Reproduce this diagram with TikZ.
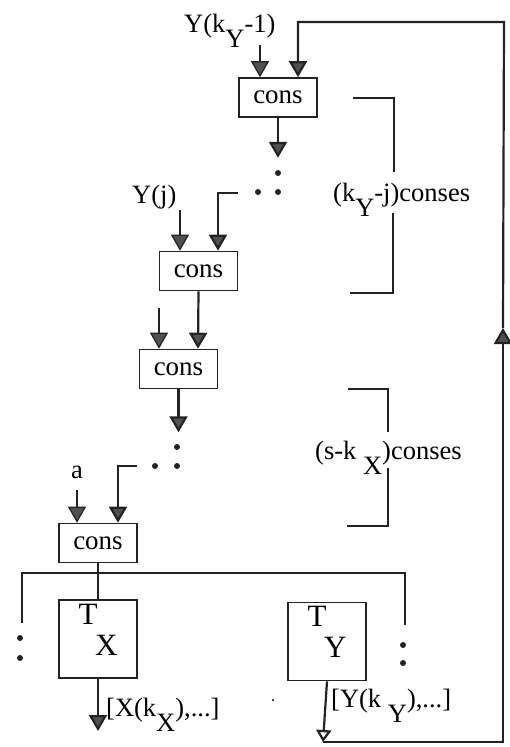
\documentclass[tikz,border=0pt]{standalone}
\usepackage{fontspec}
\setmainfont{Liberation Serif}
\usepackage{xcolor}
\usetikzlibrary{arrows.meta,calc}
\definecolor{Ink}{RGB}{35,35,35}
\definecolor{TipGray}{RGB}{80,80,80}
\newcommand{\lowsub}[1]{\raisebox{-0.6em}{#1}}
\newcommand{\tsub}[1]{\raisebox{-1.0em}[0pt][1.6em]{#1}}

\tikzset{
  consbox/.style={draw=Ink,line width=1.6pt,fill=white,minimum width=78pt,
                  minimum height=39pt,inner sep=0pt,font=\fontsize{27}{30}\selectfont},
  tbox/.style={draw=Ink,line width=1.8pt,minimum width=78pt,minimum height=78pt,
               inner sep=0pt,font=\fontsize{31}{34}\selectfont},
  wire/.style={draw=Ink,line width=2.2pt},
  thinwire/.style={draw=Ink,line width=1.2pt},
  fed/.style={-{Triangle[width=18pt,length=16pt,fill=TipGray]}},
  openfed/.style={-{Triangle[open,width=15pt,length=12pt,fill=white]}},
  lbl/.style={inner sep=0pt,font=\fontsize{26.5}{30}\selectfont},
  dotmark/.style={circle,fill=Ink,inner sep=0pt,minimum size=6pt},
}

\begin{document}
\begin{tikzpicture}[x=1pt,y=-1pt]
  \useasboundingbox (0,0) rectangle (509,747);

  % cons chain
  \node[consbox] (consA) at (278,97.5) {cons};
  \node[consbox] (consB) at (198.5,271) {cons};
  \node[consbox] (consC) at (178.5,369) {cons};
  \node[consbox] (consD) at (98,543) {cons};
  \node[tbox] (TX) at (98,639) {T\kern-.08em\tsub{X}};
  \node[tbox] (TY) at (327,641.5) {T\kern-.08em\tsub{Y}};

  \coordinate (inA1) at ($(consA.north)+(-18,0)$);
  \coordinate (inA2) at ($(consA.north)+(20,0)$);
  \coordinate (inB1) at ($(consB.north)+(-18.5,0)$);
  \coordinate (inB2) at ($(consB.north)+(19.5,0)$);
  \coordinate (inC1) at ($(consC.north)+(-19.5,0)$);
  \coordinate (inC2) at ($(consC.north)+(19.5,0)$);
  \coordinate (inD1) at ($(consD.north)+(-21,0)$);
  \coordinate (inD2) at ($(consD.north)+(20,0)$);

  % inputs
  \node[lbl,anchor=base west] (yk) at (184,32) {Y(k\lowsub{Y}-1)};
  \draw[thinwire,fed] (inA1 |- 0,45) -- (inA1);
  \node[lbl,anchor=base west] (yj) at (132,203) {Y(j)};
  \draw[thinwire,fed] (inB1 |- 0,210) -- (inB1);
  \draw[thinwire,fed] (inC1 |- 0,308) -- (inC1);
  \draw[wire,fed] (consB.south) -- (inC2);
  \node[lbl,anchor=base west] (ain) at (71,478) {a};
  \draw[thinwire,fed] (inD1 |- 0,490) -- (inD1);

  % elided conses
  \draw[wire,fed] (consA.south) -- ++(0,40) coordinate (tipA);
  \node[dotmark] (dA1) at (278,173) {};
  \node[dotmark] (dA2) at (278,192) {};
  \node[dotmark] (dA3) at (258,192) {};
  \coordinate (gapB) at (238,193);
  \draw[wire,fed] (gapB) -| (inB2);

  \draw[wire,fed] (consC.south) -- ++(0,43) coordinate (tipC);
  \node[dotmark] (dC1) at (177,447) {};
  \node[dotmark] (dC2) at (177,466) {};
  \node[dotmark] (dC3) at (155,466) {};
  \coordinate (gapD) at (137,466);
  \draw[wire,fed] (gapD) -| (inD2);

  % brackets
  \draw[wire] (353,98) -- (394,98) -- (394,172);
  \draw[wire] (393,213) -- (393,293) -- (350,293);
  \node[lbl,anchor=base west] (nY) at (333,201) {(k\lowsub{Y}-j)conses};
  \draw[wire] (348,389) -- (388,389) -- (388,432);
  \draw[wire] (388,468) -- (388,526) -- (347,526);
  \node[lbl,anchor=base west] (nX) at (315,459) {(s-k \lowsub{X})conses};

  % bus to T boxes
  \coordinate (busL) at (22,623);
  \coordinate (busR) at (405,625);
  \draw[wire] (busL) -- (22,573) -- (405,573) -- (busR);
  \draw[wire] (consD.south) -- (TX.north);
  \node[dotmark] (dL1) at (20,638) {};
  \node[dotmark] (dL2) at (20,658) {};
  \node[dotmark] (dR1) at (403,645) {};
  \node[dotmark] (dR2) at (403,663) {};

  % outputs
  \draw[wire,fed] (TX.south) -- (98,731);
  \node[lbl,anchor=base west] (outX) at (106,716) {[X(k\lowsub{X}),...]};
  \node[circle,fill=Ink,inner sep=0pt,minimum size=2.5pt] (speck) at (273,700) {};
  \node[lbl,anchor=base west] (outY) at (331,707) {[Y(k \lowsub{Y}),...]};

  % feedback loop
  \coordinate (loopBL) at (323,742);
  \coordinate (loopBR) at (503,742);
  \coordinate (loopMid) at (503,328);
  \coordinate (loopTR) at (504,22);
  \draw[wire,openfed] (TY.south) -- (loopBL);
  \draw[wire,fed] (loopBL) -- (loopBR) -- (loopMid);
  \draw[wire,fed] (loopMid) -- (loopTR) -| (inA2);
\end{tikzpicture}
\end{document}
